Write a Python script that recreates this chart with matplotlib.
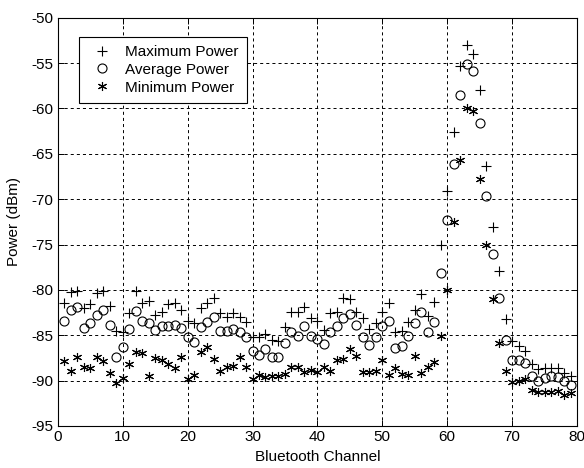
import numpy as np
import matplotlib
matplotlib.use("Agg")
import matplotlib.pyplot as plt

plt.rcParams['font.family'] = ['Liberation Sans', 'DejaVu Sans']
plt.rcParams['lines.scale_dashes'] = False
plt.rcParams['axes.unicode_minus'] = False

channels = np.arange(1, 80)

max_power = [
    -81.5, -80.2, -80.1, -82.0, -81.6, -80.3, -80.1, -81.8, -84.5, -84.6,
    -82.6, -80.1, -81.5, -81.2, -82.8, -82.4, -81.6, -81.4, -82.2, -83.4,
    -83.7, -82.0, -81.5, -80.9, -82.6, -83.0, -82.5, -83.0, -83.6, -85.2,
    -85.2, -84.85, -85.5, -85.6, -84.1, -82.4, -82.4, -81.9, -83.1, -83.4,
    -84.4, -82.6, -82.4, -80.9, -81.0, -82.4, -83.1, -84.3, -83.7, -82.4,
    -81.4, -84.6, -84.5, -83.5, -82.2, -80.5, -82.9, -81.3, -75.0, -69.1,
    -62.6, -55.3, -53.0, -54.0, -58.0, -66.3, -73.1, -77.9, -83.2, -85.6,
    -86.2, -86.7, -88.2, -88.7, -88.6, -88.6, -88.6, -89.2, -89.5,
]

avg_power = [
    -83.4, -82.2, -81.9, -84.2, -83.7, -82.8, -82.2, -83.9, -87.4, -86.3,
    -84.3, -82.3, -83.4, -83.7, -84.4, -84.0, -84.0, -83.9, -84.2, -85.2,
    -85.7, -84.1, -83.6, -83.0, -84.5, -84.5, -84.3, -84.6, -85.2, -86.7,
    -87.2, -86.5, -87.4, -87.4, -85.9, -84.7, -85.1, -84.0, -85.1, -85.4,
    -86.0, -84.6, -84.0, -83.1, -82.7, -83.9, -85.2, -86.1, -85.2, -84.0,
    -83.4, -86.4, -86.2, -85.1, -83.7, -82.4, -84.6, -83.5, -78.1, -72.3,
    -66.1, -58.5, -55.1, -55.9, -61.6, -69.6, -76.1, -80.9, -85.5, -87.7,
    -87.7, -88.1, -89.5, -90.0, -89.7, -89.5, -89.6, -90.1, -90.5,
]

min_power = [
    -87.8, -89.0, -87.4, -88.5, -88.6, -87.4, -87.8, -89.2, -90.3, -89.7,
    -88.2, -86.9, -87.0, -89.5, -87.5, -87.7, -88.2, -88.6, -87.4, -89.85,
    -89.4, -86.9, -86.3, -87.6, -88.9, -88.5, -88.4, -87.4, -88.5, -89.85,
    -89.4, -89.6, -89.5, -89.5, -89.25, -88.5, -88.55, -89.1, -88.8, -89.1,
    -88.5, -88.9, -87.7, -87.6, -86.5, -87.3, -89.1, -89.05, -88.95, -87.7,
    -89.4, -88.6, -89.3, -89.4, -87.3, -89.2, -88.5, -88.0, -85.1, -80.0,
    -72.5, -65.7, -59.9, -60.3, -67.8, -75.0, -81.0, -85.9, -88.9, -90.2,
    -90.0, -89.8, -91.0, -91.3, -91.3, -91.3, -91.2, -91.6, -91.4,
]

x_ticks = [0, 10, 20, 30, 40, 50, 60, 70, 80]
y_ticks = [-95, -90, -85, -80, -75, -70, -65, -60, -55, -50]

fig = plt.figure(figsize=(5.84, 4.68), dpi=100)
ax = fig.add_axes([0.099, 0.090, 0.889, 0.872])

ax.plot(channels, max_power, linestyle='none', marker='+', color='black',
        markersize=6.5, markeredgewidth=0.8, label='Maximum Power')
ax.plot(channels, avg_power, linestyle='none', marker='o', color='black',
        markerfacecolor='none', markersize=6.5, markeredgewidth=0.8,
        label='Average Power')
ax.plot(channels, min_power, linestyle='none', marker=(6, 2, 0), color='black',
        markersize=6.5, markeredgewidth=0.8, label='Minimum Power')

ax.set_xlim(0, 80)
ax.set_ylim(-95, -50)
ax.set_xticks(x_ticks)
ax.set_yticks(y_ticks)
ax.grid(True, color='black', linestyle=(0, (2.2, 2.2)), linewidth=0.7)
ax.tick_params(direction='in', top=True, right=True, length=4, width=0.7,
               labelsize=11, colors='black', pad=3)
for spine in ax.spines.values():
    spine.set_linewidth(0.8)

ax.set_xlabel('Bluetooth Channel', fontsize=11, labelpad=4)
ax.set_ylabel('Power (dBm)', fontsize=11, labelpad=8)

leg = ax.legend(loc='upper left', bbox_to_anchor=(0.041, 0.954), fontsize=11,
                frameon=True, fancybox=False, edgecolor='black',
                handlelength=1.85, handletextpad=0.6, labelspacing=0.25,
                borderpad=0.55, borderaxespad=0.0)
leg.get_frame().set_linewidth(0.8)
leg.get_frame().set_alpha(1.0)

fig.savefig('out.png', dpi=100, facecolor='white')
